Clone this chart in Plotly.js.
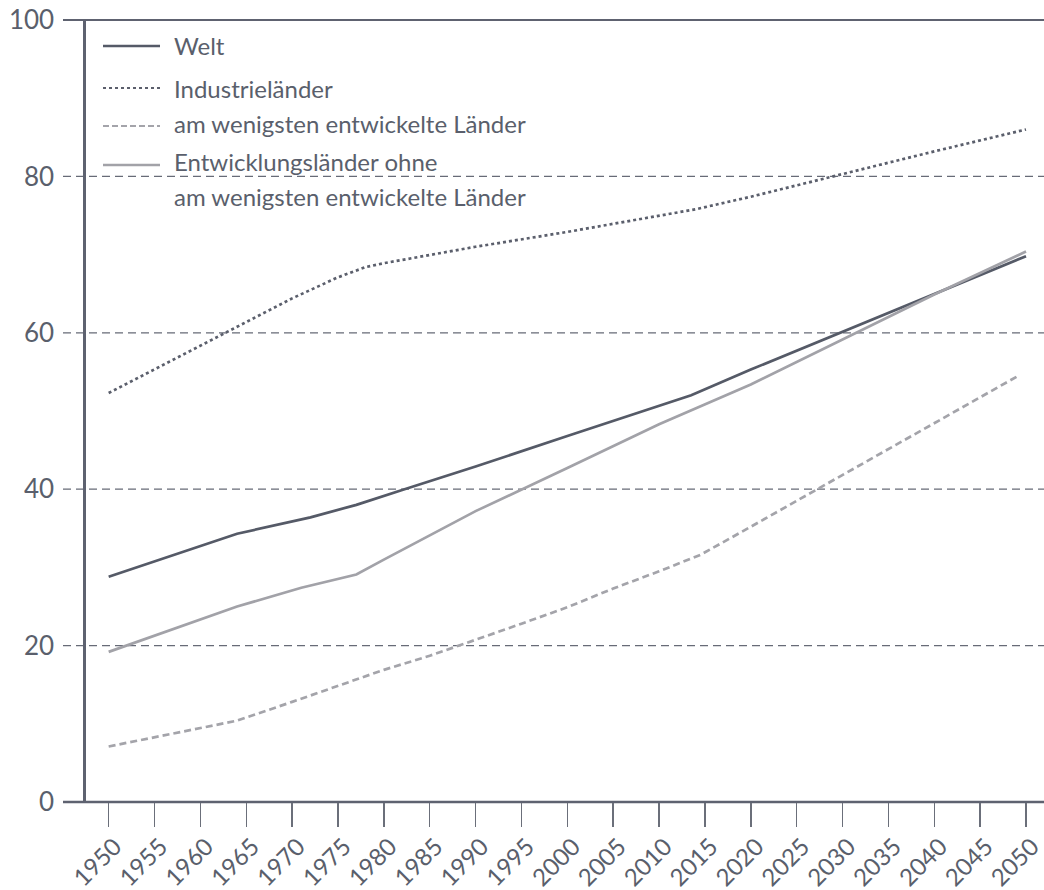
<!DOCTYPE html>
<html>
<head>
<meta charset="utf-8">
<script src="https://cdn.plot.ly/plotly-3.0.1.min.js"></script>
<style>html,body{margin:0;padding:0;background:#fff;}#chart{width:1044px;height:890px;}</style>
</head>
<body>
<div id="chart"></div>
<script>
// ---- data ----
const tickYears = [1950,1955,1960,1965,1970,1975,1980,1985,1990,1995,2000,2005,2010,2015,2020,2025,2030,2035,2040,2045,2050];
const tickLabels = tickYears.map(String);
const yTicks = [0,20,40,60,80,100];

const yearsWelt = [1950,1964,1972,1977,1982,1990,2000,2010,2013.5,2020,2030,2040,2050];
const welt      = [28.8,34.3,36.4,38.0,39.9,42.9,46.8,50.6,52.0,55.3,60.1,64.9,69.8];

const yearsInd = [1950,1955,1960,1965,1970,1975,1978,1980,1990,2000,2010,2014,2020,2030,2040,2050];
const ind      = [52.3,55.3,58.4,61.4,64.4,67.1,68.4,68.9,71.0,72.9,75.0,75.8,77.4,80.3,83.2,86.0];

const yearsLdc = [1950,1964,1970,1976,1980,1985,1990,1995,2000,2005,2010,2014.5,2020,2025,2030,2035,2040,2045,2049];
const ldc      = [7.1,10.4,12.8,15.3,16.9,18.7,20.7,22.8,24.9,27.3,29.5,31.6,35.2,38.5,41.9,45.2,48.5,51.8,54.4];

const yearsEntw = [1950,1964,1971,1977,1980,1990,2000,2010,2020,2030,2040,2050];
const entw      = [19.2,25.0,27.4,29.1,31.0,37.2,42.7,48.3,53.4,59.2,64.9,70.4];

const names = ['Welt','Industrieländer','am wenigsten entwickelte Länder','Entwicklungsländer ohne','am wenigsten entwickelte Länder'];

// ---- styling ----
const textColor = '#5a5f6c';
const gridColor = '#676b77';
const cWelt = '#555a67', cInd = '#5b5f6c', cLdc = '#a4a4aa', cEntw = '#a2a2a8';
const FONT = 'Lato, "Open Sans", sans-serif';

const yMin = 0, yMax = 100;
const plotW = 958, plotH = 782;
const leftExt = -23 / plotW;
const py = v => (v - yMin) / (yMax - yMin);

const traces = [
  {x: yearsWelt, y: welt, name: names[0], mode: 'lines', line: {color: cWelt, width: 2.7}},
  {x: yearsInd, y: ind, name: names[1], mode: 'lines', line: {color: cInd, width: 2.7, dash: 'dot'}},
  {x: yearsLdc, y: ldc, name: names[2], mode: 'lines', line: {color: cLdc, width: 2.7, dash: '7px,4px'}},
  {x: yearsEntw, y: entw, name: names[3], mode: 'lines', line: {color: cEntw, width: 2.7}}
];

const shapes = [];
yTicks.forEach(v => {
  const edge = (v === yMin || v === yMax);
  shapes.push({type: 'line', xref: 'paper', yref: 'paper', x0: leftExt, x1: 1, y0: py(v), y1: py(v),
    line: {color: edge ? '#5e6270' : gridColor, width: edge ? (v === yMin ? 2.6 : 2) : 1.3, dash: edge ? 'solid' : '8px,5px'}, layer: 'below'});
});

// legend (drawn manually)
const lx0 = 17 / plotW, lx1 = 74 / plotW, tx = 86 / plotW;
const legendRows = [
  {py: 46, line: {color: cWelt, width: 2.6}},
  {py: 88, line: {color: cInd, width: 2.2, dash: 'dot'}},
  {py: 126, line: {color: cLdc, width: 2, dash: '6px,3px'}},
  {py: 165, line: {color: cEntw, width: 2.6}}
];
const toPaperY = p => (802 - p) / plotH;
legendRows.forEach(r => {
  shapes.push({type: 'line', xref: 'paper', yref: 'paper', x0: lx0, x1: lx1, y0: toPaperY(r.py), y1: toPaperY(r.py), line: r.line});
});
const legendText = [
  {t: names[0], py: 45},
  {t: names[1], py: 88},
  {t: names[2], py: 124},
  {t: names[3], py: 161},
  {t: names[4], py: 196}
];
const annotations = legendText.map(a => ({
  xref: 'paper', yref: 'paper', x: tx, y: toPaperY(a.py), xanchor: 'left', yanchor: 'middle',
  text: a.t, showarrow: false, font: {family: FONT, size: 24, color: textColor}
}));

const layout = {
  width: 1044, height: 890,
  margin: {l: 86, r: 0, t: 20, b: 88, pad: 0},
  paper_bgcolor: '#fff', plot_bgcolor: '#fff',
  showlegend: false,
  font: {family: FONT, color: textColor},
  xaxis: {
    range: [1947.53, 2051.96], tickvals: tickYears, ticktext: tickLabels, tickangle: -45,
    ticks: 'outside', ticklen: 24, tickwidth: 1.5, tickcolor: '#6b6f7a',
    ticklabelshift: 6, ticklabelstandoff: -4, ticklabeloverflow: 'allow',
    showgrid: false, zeroline: false, showline: false,
    tickfont: {family: FONT, size: 24, color: textColor}
  },
  yaxis: {
    range: [yMin, yMax], tickvals: yTicks, ticktext: yTicks.map(String),
    ticks: 'outside', ticklen: 24, tickcolor: 'rgba(0,0,0,0)',
    showgrid: false, zeroline: false, showline: true, linecolor: '#5e6270', linewidth: 2.6,
    tickfont: {family: FONT, size: 26, color: textColor}
  },
  shapes: shapes,
  annotations: annotations
};

Plotly.newPlot('chart', traces, layout, {displayModeBar: false, staticPlot: true});
</script>
</body>
</html>
